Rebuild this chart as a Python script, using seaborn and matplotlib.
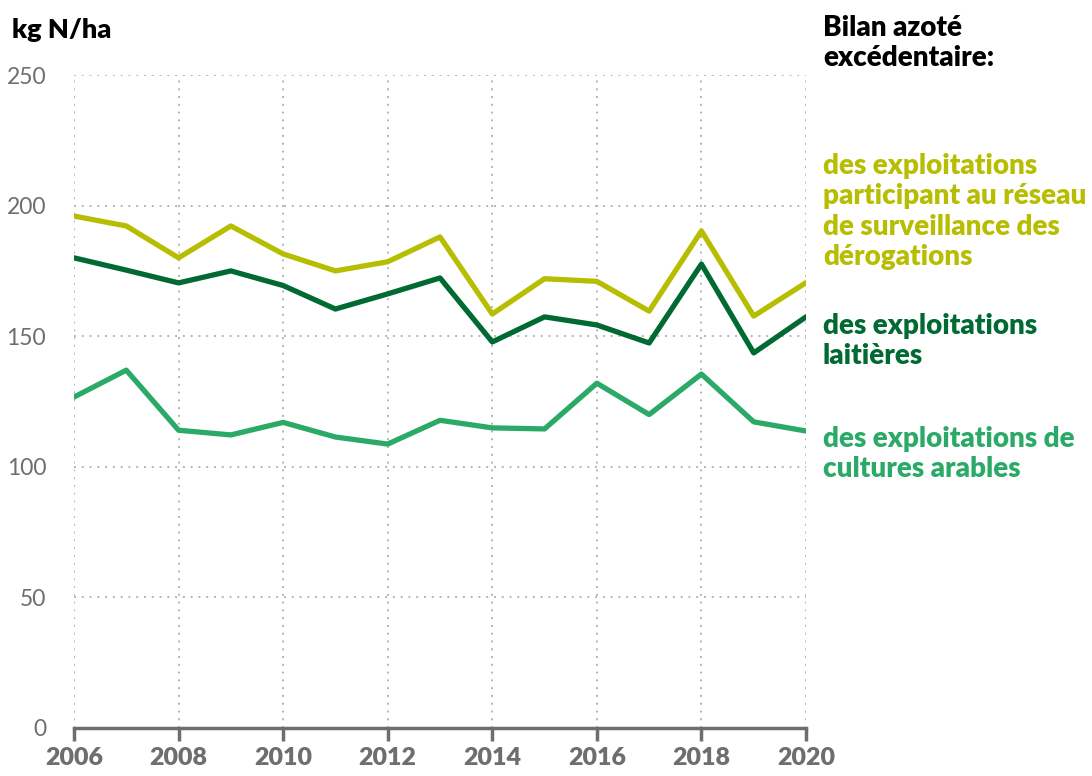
import matplotlib
matplotlib.use("Agg")
import matplotlib.pyplot as plt
import seaborn as sns
import pandas as pd

years = list(range(2006, 2021))
reseau = [196, 192.2, 180, 192.2, 181.5, 175, 178.5, 188, 158.5, 172, 171, 159.6, 190.3, 157.7, 170.5]
laitieres = [180, 175.3, 170.4, 175, 169.4, 160.4, 166.2, 172.3, 147.8, 157.4, 154.3, 147.4, 177.6, 143.6, 157.4]
arables = [126.7, 137, 114, 112.2, 117, 111.4, 108.7, 117.8, 114.9, 114.5, 132, 120, 135.5, 117.2, 113.7]

series_names = ["reseau", "laitieres", "arables"]
series_labels = [
    "des exploitations\nparticipant au réseau\nde surveillance des\ndérogations",
    "des exploitations\nlaitières",
    "des exploitations de\ncultures arables",
]
colors = ["#B7BD00", "#006A32", "#2BAA67"]
xticks = list(range(2006, 2021, 2))
yticks = [0, 50, 100, 150, 200, 250]

df = pd.DataFrame({
    "year": years * 3,
    "value": reseau + laitieres + arables,
    "series": sum([[s] * len(years) for s in series_names], []),
})

sns.set_theme(style="white")
plt.rcParams["font.family"] = ["Lato", "DejaVu Sans"]
W = 800

fig = plt.figure(figsize=(10.92, 7.76), dpi=100)
ax = fig.add_axes([74 / 1092, 1 - 728 / 776, (806 - 74) / 1092, (728 - 75) / 776])

sns.lineplot(data=df, x="year", y="value", hue="series", palette=dict(zip(series_names, colors)),
             linewidth=3.8, ax=ax, legend=False, zorder=3)

ax.set_xlim(2006, 2020)
ax.set_ylim(0, 250)
ax.set_xticks(xticks)
ax.set_yticks(yticks)
ax.set_xticklabels([str(x) for x in xticks], fontsize=18, fontweight=W, color="#6E6E6E")
ax.set_yticklabels([str(y) for y in yticks], fontsize=16.5, color="#6E6E6E")
ax.set_xlabel("")
ax.set_ylabel("")
ax.grid(True, linestyle=(0, (1, 3)), color="#B5B5B5", linewidth=1.4, zorder=0)
ax.set_axisbelow(True)
for s in ["top", "right", "left"]:
    ax.spines[s].set_visible(False)
ax.spines["bottom"].set_color("#6E6E6E")
ax.spines["bottom"].set_linewidth(2.5)
ax.tick_params(axis="x", direction="out", length=9, width=2.5, color="#6E6E6E", pad=5, bottom=True)
ax.tick_params(axis="y", length=0, pad=20)

fig.text(12 / 1092, 1 - 30 / 776, "kg N/ha", fontsize=19.5, fontweight=W, color="black", va="center")
fig.text(823 / 1092, 1 - 15 / 776, "Bilan azoté\nexcédentaire:", fontsize=20, fontweight=W,
         color="black", va="top", linespacing=1.2)
label_tops = [153, 313, 426]
for lab, col, top in zip(series_labels, colors, label_tops):
    fig.text(823 / 1092, 1 - top / 776, lab, fontsize=20, fontweight=W, color=col,
             va="top", linespacing=1.21)

fig.savefig("out.png", dpi=100)
